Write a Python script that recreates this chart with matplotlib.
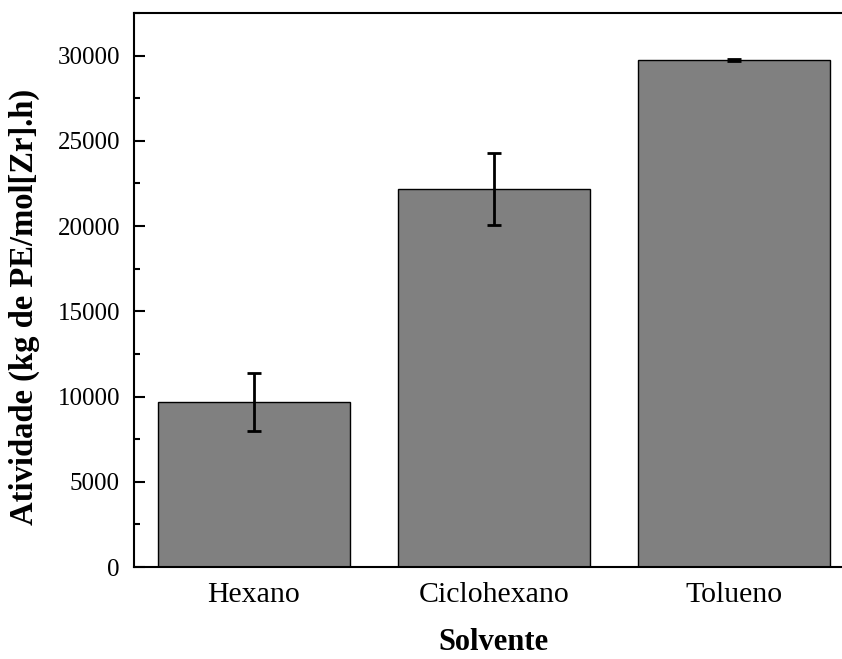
import numpy as np
import matplotlib.pyplot as plt
from matplotlib.ticker import MultipleLocator

plt.rcParams['font.family'] = ['Liberation Serif', 'DejaVu Serif']

# Atividade catalítica por solvente
solventes = ["Hexano", "Ciclohexano", "Tolueno"]
atividade = [9670, 22170, 29740]
desvio = [1700, 2110, 60]

fig = plt.figure(figsize=(8.42, 6.59), dpi=100)
ax = fig.add_axes([0.159, 0.1396, 0.855, 0.8407])

x = np.arange(len(solventes))
ax.bar(x, atividade, width=0.8, color='#808080', edgecolor='black', linewidth=1.0, zorder=2)
ax.errorbar(x, atividade, yerr=desvio, fmt='none', ecolor='black',
            elinewidth=2.0, capsize=5, capthick=2.0, zorder=3)

ax.set_xlim(-0.5, 2.5)
ax.set_ylim(0, 32500)
ax.set_xticks(x)
ax.set_xticklabels(solventes)
ax.yaxis.set_major_locator(MultipleLocator(5000))
ax.yaxis.set_minor_locator(MultipleLocator(2500))

ax.tick_params(axis='y', which='major', direction='in', length=8, width=1.5, labelsize=18, pad=10)
ax.tick_params(axis='y', which='minor', direction='in', length=4, width=1.5)
ax.tick_params(axis='x', which='major', length=0, labelsize=21.5, pad=11)
ax.tick_params(axis='y', right=False)

for s in ax.spines.values():
    s.set_linewidth(1.5)

ax.set_xlabel("Solvente", fontsize=22, fontweight='bold', labelpad=14)
ax.set_ylabel("Atividade (kg de PE/mol[Zr].h)", fontsize=23.5, fontweight='bold')
ax.yaxis.set_label_coords(-0.13, 0.47)

fig.savefig("out.png", dpi=100)
